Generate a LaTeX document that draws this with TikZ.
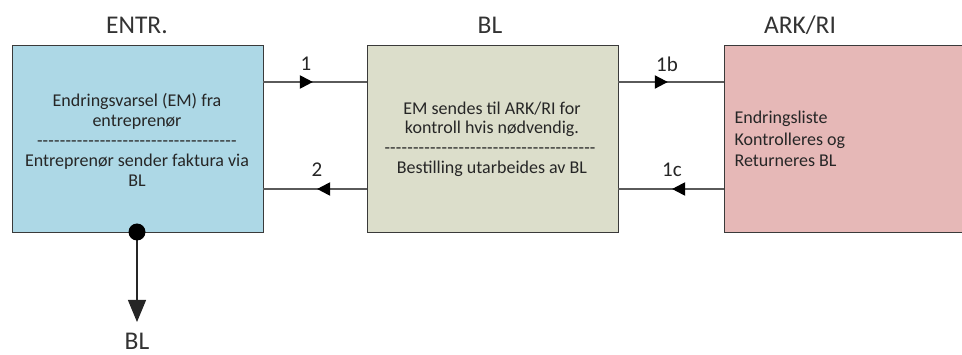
\documentclass[tikz,border=0pt]{standalone}
\usepackage{fontspec}
\setmainfont{Carlito}
\usetikzlibrary{arrows.meta,decorations.markings}
\definecolor{entrfill}{HTML}{ADD8E6}
\definecolor{blfill}{HTML}{DCDECB}
\definecolor{arkfill}{HTML}{E6B8B7}
\definecolor{edge}{HTML}{3A3A3A}
\definecolor{wire}{HTML}{5A5A5A}
\newcommand\hyphenrow[1]{\hbox to #1{\leaders\hbox{-\kern0.2pt}\hfill}}
\tikzset{
  box/.style={draw=edge, line width=1.2pt, anchor=north west, inner sep=0pt},
  title/.style={font=\fontsize{25.5}{29}\selectfont, text=black!80},
  body/.style={font=\fontsize{18}{19.8}\selectfont, text=black!85, align=center},
  flowlabel/.style={font=\fontsize{21}{24}\selectfont, text=black!85},
  wire/.style={draw=wire, line width=2pt},
  midtip/.style={postaction={decorate},
    decoration={markings, mark=at position #1 with {\arrow[black]{Triangle[length=13pt,width=13pt]}}}},
}
\begin{document}
\begin{tikzpicture}[x=1pt,y=-1pt]
\useasboundingbox (0,0) rectangle (962,355);

% boxes
\node[box, fill=entrfill, minimum width=251pt, minimum height=187pt] (entr) at (12,45) {};
\node[box, fill=blfill, minimum width=251pt, minimum height=187pt] (bl) at (367,45) {};
\node[box, fill=arkfill, minimum width=240pt, minimum height=187pt] (ark) at (724,45) {};

% titles
\node[title] (tEntr) at (137,25) {ENTR.};
\node[title] (tBl) at (490,25) {BL};
\node[title] (tArk) at (800,25) {ARK/RI};

% box texts
\node[body] (txEntr) at (137,140) {Endringsvarsel (EM) fra\\entreprenør\\\hyphenrow{200pt}\\Entreprenør sender faktura via\\BL};
\node[body] (txBl) at (492,139) {EM sendes til ARK/RI for\\kontroll hvis nødvendig.\\\hyphenrow{215pt}\\Bestilling utarbeides av BL};
\node[body, align=left, anchor=west, font=\fontsize{18}{21.5}\selectfont] (txArk) at (731,139) {Endringsliste\\Kontrolleres og\\Returneres BL};

% anchor points on the box sides
\coordinate (eR1) at (263,82);
\coordinate (eR2) at (263,189);
\coordinate (bL1) at (367,82);
\coordinate (bL2) at (367,189);
\coordinate (bR1) at (618,82);
\coordinate (bR2) at (618,189);
\coordinate (aL1) at (724,82);
\coordinate (aL2) at (724,189);

% connectors
\draw[wire, midtip=0.48] (eR1) -- (bL1);
\draw[wire, midtip=0.48] (bL2) -- (eR2);
\draw[wire, midtip=0.47] (bR1) -- (aL1);
\draw[wire, midtip=0.49] (aL2) -- (bR2);

\node[flowlabel] (l1) at (306,64) {1};
\node[flowlabel] (l2) at (317,170) {2};
\node[flowlabel] (l1b) at (667,64) {1b};
\node[flowlabel] (l1c) at (672,170) {1c};

% output to BL below
\coordinate (dotc) at (137,232);
\node[title] (outBl) at (137,341) {BL};
\coordinate (outTip) at (137,322);
\draw[draw=black!85, line width=1.2pt, -{Triangle[length=22pt,width=18pt]}] (dotc) -- (outTip);
\fill[black] (dotc) circle (8.5pt);
\end{tikzpicture}
\end{document}
